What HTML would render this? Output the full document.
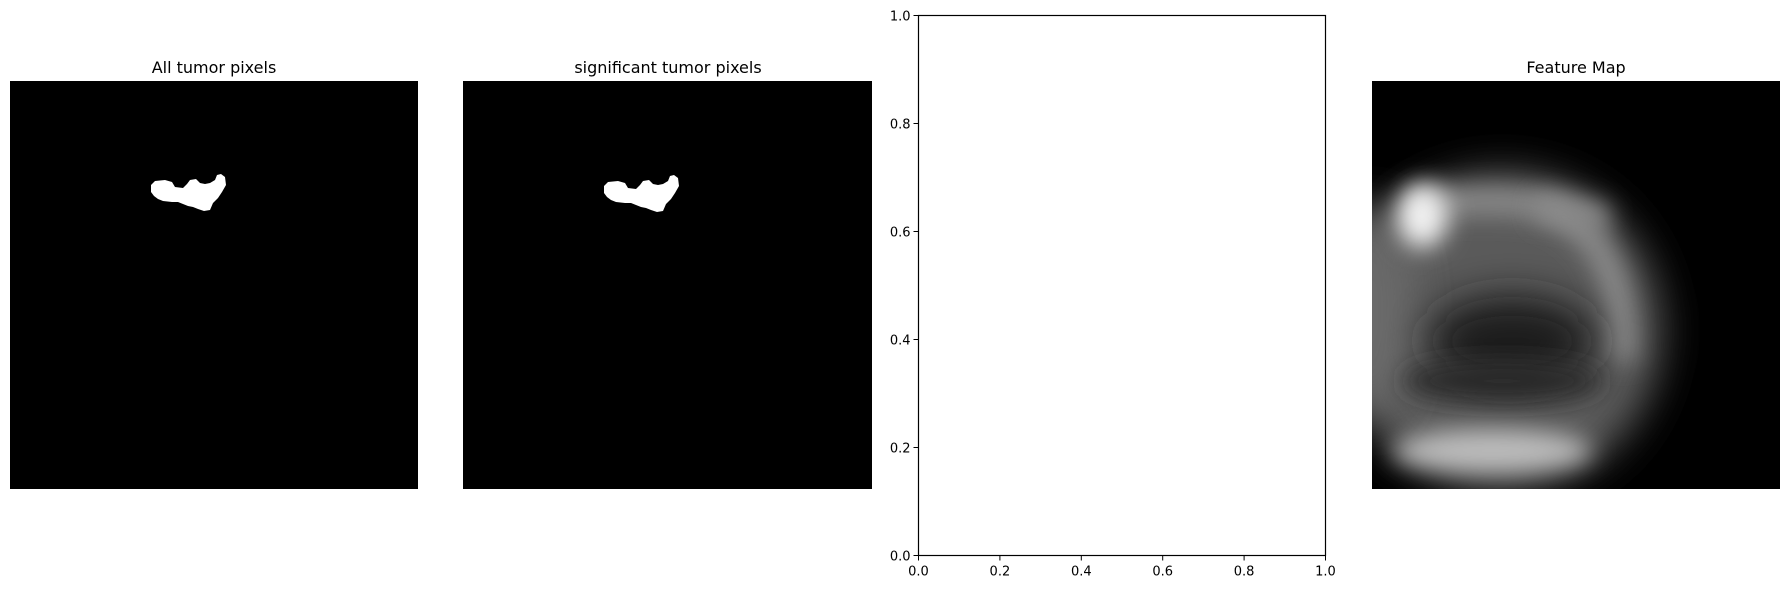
<!DOCTYPE html>
<html><head><meta charset="utf-8"><style>
html,body{margin:0;padding:0;background:#fff;}
body{width:1790px;height:589px;position:relative;overflow:hidden;font-family:"DejaVu Sans","Liberation Sans",sans-serif;}
svg{position:absolute;left:0;top:0;}
</style></head><body>
<svg width="1790" height="589" viewBox="0 0 1790 589">
<defs>
 <filter id="b12" filterUnits="userSpaceOnUse" x="-100" y="-100" width="608" height="608"><feGaussianBlur stdDeviation="12"/></filter>
 <filter id="b20" filterUnits="userSpaceOnUse" x="-100" y="-100" width="608" height="608"><feGaussianBlur stdDeviation="20"/></filter>
 <clipPath id="cp4"><rect x="0" y="0" width="408" height="408"/></clipPath>
 <path id="blob" d="M141,104 L145,100 L155,99 L162,101 L165,106 L173,107 L177,103 L180,99 L186,98 L190,102 L195,103 L200,102 L205,99 L207,94 L211,93 L215,96 L216,104 L212,111 L208,117 L203,122 L200,129 L194,130 L188,128 L183,126 L178,125 L173,123 L168,121 L162,121 L153,120 L148,118 L144,115 L141,111 Z"/>
</defs>

<text x="214" y="73" font-size="16" text-anchor="middle" fill="#000">All tumor pixels</text>
<g transform="translate(10,81)">
 <rect width="408" height="408" fill="#000"/>
 <use href="#blob" fill="#fff"/>
</g>

<text x="668" y="73" font-size="16" text-anchor="middle" fill="#000">significant tumor pixels</text>
<g transform="translate(463,81)">
 <rect width="409" height="408" fill="#000"/>
 <g transform="translate(0,1)"><use href="#blob" fill="#fff"/></g>
</g>

<g id="ax3">
 <rect x="918.5" y="15.5" width="407" height="540" fill="#fff" stroke="#000" stroke-width="1.2"/>
</g>

<text x="1576" y="73" font-size="16" text-anchor="middle" fill="#000">Feature Map</text>
<g transform="translate(1372,81)" clip-path="url(#cp4)">
 <rect width="408" height="408" fill="#000"/>
 <ellipse cx="130" cy="250" rx="160" ry="160" fill="#5a5a5a" filter="url(#b20)"/>
 <ellipse cx="0" cy="230" rx="40" ry="110" fill="#6a6a6a" filter="url(#b20)"/>
 <path d="M40,125 Q150,110 235,140" stroke="#8a8a8a" stroke-width="28" fill="none" filter="url(#b12)"/>
 <path d="M165,125 Q255,150 250,280" stroke="#8c8c8c" stroke-width="26" fill="none" filter="url(#b12)"/>
 <ellipse cx="140" cy="260" rx="85" ry="45" fill="#1a1a1a" filter="url(#b20)"/>
 <ellipse cx="130" cy="300" rx="100" ry="20" fill="#2a2a2a" filter="url(#b12)"/>
 <ellipse cx="120" cy="370" rx="100" ry="22" fill="#bcbcbc" filter="url(#b12)"/>
 <ellipse cx="50" cy="135" rx="26" ry="32" fill="#f0f0f0" filter="url(#b12)"/>
</g>
</svg>
<script>
var yTicks=[0,0.2,0.4,0.6,0.8,1.0];
var xTicks=[0,0.2,0.4,0.6,0.8,1.0];
var ns='http://www.w3.org/2000/svg';
var svg=document.querySelector('svg');
var L=918.5,R=1325.5,T=15.5,B=555.5;
function sx(v){return L+v*(R-L);}
function sy(v){return B-v*(B-T);}
yTicks.forEach(function(v){
 var l=document.createElementNS(ns,'line');
 l.setAttribute('x1',L-5);l.setAttribute('x2',L);l.setAttribute('y1',sy(v));l.setAttribute('y2',sy(v));
 l.setAttribute('stroke','#000');
 
 
 svg.appendChild(l);
 var t=document.createElementNS(ns,'text');
 t.setAttribute('x',L-8);t.setAttribute('y',sy(v)+5);t.setAttribute('font-size','13');t.setAttribute('text-anchor','end');
 t.textContent=v.toFixed(1);
 
 
 svg.appendChild(t);
});
xTicks.forEach(function(v){
 var l=document.createElementNS(ns,'line');
 l.setAttribute('x1',sx(v));l.setAttribute('x2',sx(v));l.setAttribute('y1',B);l.setAttribute('y2',B+5);
 l.setAttribute('stroke','#000');
 
 
 svg.appendChild(l);
 var t=document.createElementNS(ns,'text');
 t.setAttribute('x',sx(v));t.setAttribute('y',B+20);t.setAttribute('font-size','13');t.setAttribute('text-anchor','middle');
 t.textContent=v.toFixed(1);
 
 
 svg.appendChild(t);
});
</script>
</body></html>
